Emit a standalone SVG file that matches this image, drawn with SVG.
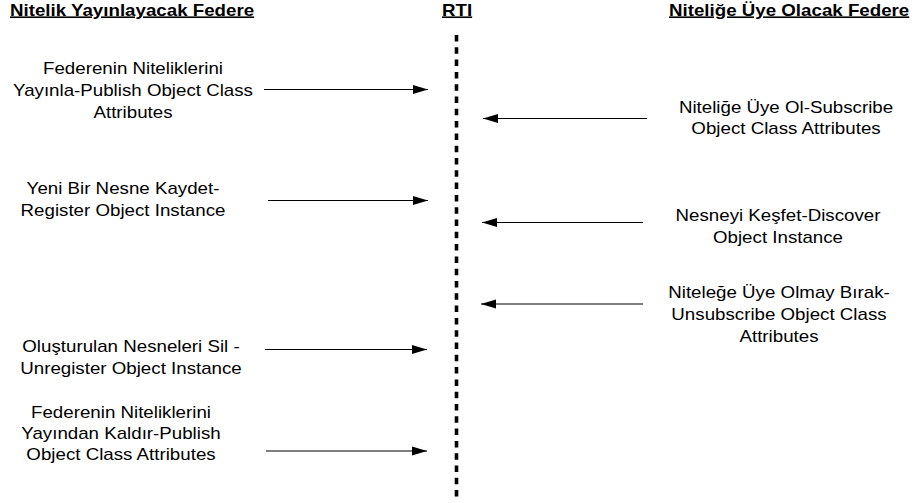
<svg xmlns="http://www.w3.org/2000/svg" width="916" height="503" viewBox="0 0 916 503">
  <style>
    .lbl { font-family: "Liberation Sans", Arial, sans-serif; font-size: 16px; fill: #000; text-anchor: middle; }
    .hdr { font-family: "Liberation Sans", Arial, sans-serif; font-size: 16px; font-weight: bold; fill: #000; text-decoration: underline; }
    .msg { stroke: #000; stroke-width: 1.2; fill: none; marker-end: url(#head); }
    .life { stroke: #000; stroke-width: 3.6; stroke-dasharray: 6.5 5.8; fill: none; }
  </style>
  <defs>
    <marker id="head" markerUnits="userSpaceOnUse" markerWidth="15" markerHeight="10" refX="15" refY="5" orient="auto">
      <path d="M0,0.5 L15,5 L0,9.5 Z" fill="#000"/>
    </marker>
  </defs>
  <rect width="916" height="503" fill="#fff"/>

  <!-- column headers -->
  <g id="headers">
    <text class="hdr" transform="translate(10,15.5) scale(1.17,1)">Nitelik Yayınlayacak Federe</text>
    <text class="hdr" transform="translate(442,15.5) scale(1.17,1)">RTI</text>
    <text class="hdr" transform="translate(669,15.5) scale(1.17,1)">Niteliğe Üye Olacak Federe</text>
  </g>

  <!-- RTI lifeline -->
  <g id="rti-lifeline">
    <line class="life" x1="456.5" y1="35" x2="456.5" y2="498"/>
  </g>

  <!-- publishing federate calls -->
  <g id="publish-attrs">
    <text class="lbl" transform="translate(133,74) scale(1.17,1)">Federenin Niteliklerini</text>
    <text class="lbl" transform="translate(133,96) scale(1.17,1)">Yayınla-Publish Object Class</text>
    <text class="lbl" transform="translate(133,118) scale(1.17,1)">Attributes</text>
  </g>
  <g id="register-instance">
    <text class="lbl" transform="translate(123,194) scale(1.17,1)">Yeni Bir Nesne Kaydet-</text>
    <text class="lbl" transform="translate(123,216) scale(1.17,1)">Register Object Instance</text>
  </g>
  <g id="unregister-instance">
    <text class="lbl" transform="translate(131,352) scale(1.17,1)">Oluşturulan Nesneleri Sil -</text>
    <text class="lbl" transform="translate(131,374) scale(1.17,1)">Unregister Object Instance</text>
  </g>
  <g id="unpublish-attrs">
    <text class="lbl" transform="translate(121,418) scale(1.17,1)">Federenin Niteliklerini</text>
    <text class="lbl" transform="translate(121,439) scale(1.17,1)">Yayından Kaldır-Publish</text>
    <text class="lbl" transform="translate(121,460) scale(1.17,1)">Object Class Attributes</text>
  </g>

  <!-- subscribing federate calls -->
  <g id="subscribe-attrs">
    <text class="lbl" transform="translate(786,113) scale(1.17,1)">Niteliğe Üye Ol-Subscribe</text>
    <text class="lbl" transform="translate(786,134) scale(1.17,1)">Object Class Attributes</text>
  </g>
  <g id="discover-instance">
    <text class="lbl" transform="translate(778,221) scale(1.17,1)">Nesneyi Keşfet-Discover</text>
    <text class="lbl" transform="translate(778,243) scale(1.17,1)">Object Instance</text>
  </g>
  <g id="unsubscribe-attrs">
    <text class="lbl" transform="translate(779,298) scale(1.17,1)">Niteleğe Üye Olmay Bırak-</text>
    <text class="lbl" transform="translate(779,320) scale(1.17,1)">Unsubscribe Object Class</text>
    <text class="lbl" transform="translate(779,342) scale(1.17,1)">Attributes</text>
  </g>

  <!-- messages to and from the RTI -->
  <g id="connectors">
    <line class="msg" x1="264" y1="89.5" x2="428" y2="89.5"/>
    <line class="msg" x1="647" y1="118.5" x2="483" y2="118.5"/>
    <line class="msg" x1="268" y1="200.5" x2="428" y2="200.5"/>
    <line class="msg" x1="643" y1="222.5" x2="482" y2="222.5"/>
    <line class="msg" x1="643" y1="304" x2="481" y2="304"/>
    <line class="msg" x1="265" y1="349.5" x2="427" y2="349.5"/>
    <line class="msg" x1="266" y1="451" x2="427" y2="451"/>
  </g>
</svg>
